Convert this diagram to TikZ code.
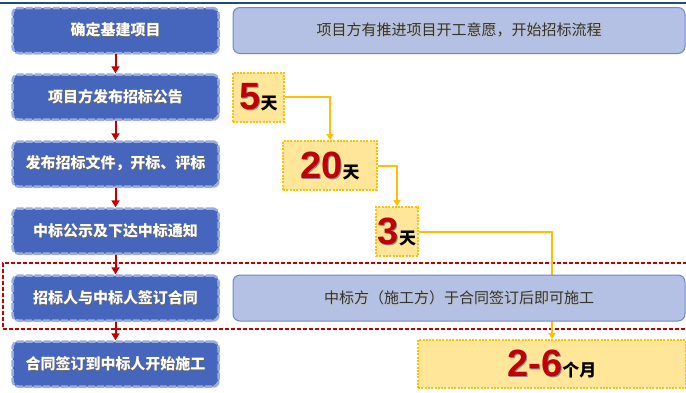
\documentclass[tikz,border=0pt]{standalone}
\usepackage{fontspec}
\setmainfont{Liberation Sans}
\newfontfamily\cjk{Noto Sans CJK SC}
\usetikzlibrary{shadows,arrows.meta}
\definecolor{boxblue}{HTML}{4666BE}
\definecolor{boxborder}{HTML}{9AABDD}
\definecolor{lightbox}{HTML}{B4C1E5}
\definecolor{lightborder}{HTML}{6E88CF}
\definecolor{arrowred}{HTML}{C00000}
\definecolor{gold}{HTML}{FFC000}
\definecolor{goldfill}{HTML}{FFE699}
\definecolor{topline}{HTML}{1F4E79}
\newcommand\shtext[3]{\leavevmode\rlap{\kern1pt\raisebox{-1pt}{\textcolor{#1}{#3}}}\textcolor{#2}{#3}}
\newcommand\numlabel[2]{{\fontsize{38}{38}\selectfont\bfseries\shtext{black!45}{arrowred}{#1}}{\cjk\bfseries\fontsize{17}{17}\selectfont\textcolor{black}{#2}}}
\begin{document}
\begin{tikzpicture}[x=1pt,y=-1pt,
  stepbox/.style={rectangle, rounded corners=6pt, fill=boxblue, draw=boxborder,
    dash pattern=on 7pt off 2pt, line width=2.5pt, minimum width=206pt, minimum height=45pt,
    inner sep=0pt, font=\cjk\bfseries\fontsize{15}{15}\selectfont,
    drop shadow={opacity=0.35, shadow xshift=1pt, shadow yshift=-1.5pt}},
  infobox/.style={rectangle, rounded corners=7pt, fill=lightbox, draw=lightborder,
    line width=1pt, minimum width=452pt, minimum height=46pt, inner sep=0pt,
    font=\cjk\fontsize{15}{15}\selectfont},
  daybox/.style={rectangle, fill=goldfill, draw=gold, dash pattern=on 2pt off 1.3pt,
    line width=2pt, inner sep=0pt},
  redarrow/.style={draw=arrowred, line width=2pt, -{Triangle[length=7pt,width=8pt]}},
  goldline/.style={draw=gold, line width=2pt, -{Triangle[length=6pt,width=7pt]}},
  frame/.style={draw=arrowred, dash pattern=on 4pt off 2pt, line width=1.2pt,
    rectangle, inner sep=0pt}
]
\useasboundingbox (0,0) rectangle (686,392);
\fill[white] (0,0) rectangle (686,392);
\draw[topline, line width=2pt] (0,3) -- (686,3);

% dashed red frame
\node[frame, minimum width=687pt, minimum height=66pt] (frm) at (346.5,296) {};

% left steps
\node[stepbox] (s1) at (115.5,30.5) {\shtext{black!60}{white}{确定基建项目}};
\node[stepbox] (s2) at (115.5,97) {\shtext{black!60}{white}{项目方发布招标公告}};
\node[stepbox] (s3) at (115.5,164) {\shtext{black!60}{white}{发布招标文件，开标、评标}};
\node[stepbox] (s4) at (115.5,231) {\shtext{black!60}{white}{中标公示及下达中标通知}};
\node[stepbox] (s5) at (115.5,298) {\shtext{black!60}{white}{招标人与中标人签订合同}};
\node[stepbox] (s6) at (115.5,364) {\shtext{black!60}{white}{合同签订到中标人开始施工}};

\draw[redarrow] (s1) -- (s2);
\draw[redarrow] (s2) -- (s3);
\draw[redarrow] (s3) -- (s4);
\draw[redarrow] (s4) -- (s5);
\draw[redarrow] (s5) -- (s6);

% info box top
\node[infobox] (i1) at (459,30.5) {\shtext{black!25}{black!80}{项目方有推进项目开工意愿，开始招标流程}};

% day boxes
\node[daybox, minimum width=51pt, minimum height=49pt] (d1) at (258.5,97) {\numlabel{5}{天}};
\node[daybox, minimum width=94pt, minimum height=49pt] (d2) at (330,165.5) {\numlabel{20}{天}};
\node[daybox, minimum width=42pt, minimum height=49pt] (d3) at (397,231.5) {\numlabel{3}{天}};
\node[daybox, minimum width=268pt, minimum height=48pt] (d4) at (552,364) {\numlabel{2-6}{个月}};

\draw[goldline] (d1.east) -| (d2.north);
\draw[goldline] (d2.east) -| (d3.north);
\draw[goldline] (d3.east) -| (d4.north);

% info box 5 (drawn over the connector)
\node[infobox] (i5) at (459,298) {\shtext{black!25}{black!80}{中标方（施工方）于合同签订后即可施工}};
\end{tikzpicture}
\end{document}
